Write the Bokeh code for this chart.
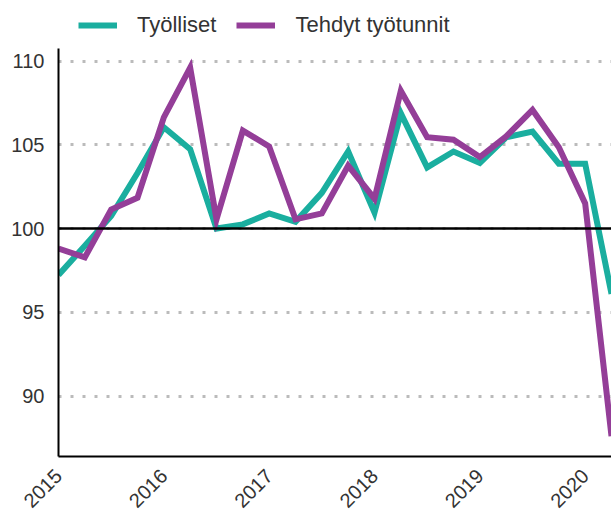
from bokeh.plotting import figure
from bokeh.layouts import column
from bokeh.models import Range1d, FixedTicker, Span, Legend, LegendItem, ColumnDataSource
from bokeh.embed import file_html
from bokeh.resources import INLINE

quarters = ["2015Q1", "2015Q2", "2015Q3", "2015Q4",
            "2016Q1", "2016Q2", "2016Q3", "2016Q4",
            "2017Q1", "2017Q2", "2017Q3", "2017Q4",
            "2018Q1", "2018Q2", "2018Q3", "2018Q4",
            "2019Q1", "2019Q2", "2019Q3", "2019Q4",
            "2020Q1", "2020Q2"]
tyolliset = [97.23, 98.97, 100.75, 103.32, 106.05, 104.74, 100.0, 100.25,
             100.9, 100.4, 102.13, 104.6, 100.95, 106.88, 103.65, 104.6,
             103.91, 105.45, 105.79, 103.87, 103.87, 96.1]
tyotunnit = [98.81, 98.28, 101.14, 101.84, 106.64, 109.6, 100.55, 105.85,
             104.9, 100.55, 100.9, 103.75, 101.78, 108.22, 105.45, 105.3,
             104.27, 105.5, 107.08, 104.86, 101.5, 87.6]
series_names = ["Työlliset", "Tehdyt työtunnit"]
year_labels = ["2015", "2016", "2017", "2018", "2019", "2020"]
y_ticks = [90, 95, 100, 105, 110]
baseline = 100

TEAL = "#1AAE9F"
PURPLE = "#943E98"
FONT = "Liberation Sans"
TXT = "#333333"

x = list(range(len(quarters)))
src = ColumnDataSource(dict(x=x, q=quarters, a=tyolliset, b=tyotunnit))

# ---- legend strip (its frame is aligned with the chart's frame by the column) ----
leg = figure(width=611, height=48, output_backend="svg", toolbar_location=None,
             x_range=Range1d(0, 1), y_range=Range1d(0, 1),
             x_axis_type=None, y_axis_type=None,
             min_border_left=58, min_border_right=0, min_border_top=0, min_border_bottom=0)
leg.outline_line_color = None
leg.grid.grid_line_color = None
leg.border_fill_color = "white"
# same series drawn out of this strip's view: only their legend swatches show
l1 = leg.line("x", "a", source=src, line_color=TEAL, line_width=6)
l2 = leg.line("x", "b", source=src, line_color=PURPLE, line_width=6)
legend = Legend(items=[LegendItem(label=series_names[0], renderers=[l1]),
                       LegendItem(label=series_names[1], renderers=[l2])],
                location=(20, 10.5), orientation="horizontal",
                glyph_width=39, glyph_height=24, label_standoff=20, spacing=20,
                padding=0, margin=0, border_line_color=None, background_fill_alpha=0,
                label_text_font=FONT, label_text_font_size="22px", label_text_color=TXT)
leg.add_layout(legend, "center")

# ---- main chart ----
p = figure(width=611, height=468, output_backend="svg", toolbar_location=None,
           x_range=Range1d(0, len(quarters) - 1), y_range=Range1d(86.39, 110.75),
           min_border_left=58, min_border_right=0, min_border_top=0, min_border_bottom=57)
p.outline_line_color = None
p.background_fill_color = "white"
p.border_fill_color = "white"

p.line("x", "a", source=src, line_color=TEAL, line_width=6, line_join="miter")
p.line("x", "b", source=src, line_color=PURPLE, line_width=6, line_join="miter")

year_idx = [i for i, q in enumerate(quarters) if q.endswith("Q1")]
p.xaxis.ticker = FixedTicker(ticks=year_idx)
p.xaxis.major_label_overrides = {i: lab for i, lab in zip(year_idx, year_labels)}
p.xaxis.major_label_orientation = 0.785398
p.yaxis.ticker = FixedTicker(ticks=y_ticks)

for ax in (p.xaxis[0], p.yaxis[0]):
    ax.axis_line_color = "black"
    ax.axis_line_width = 2
    ax.major_tick_line_color = None
    ax.minor_tick_line_color = None
    ax.major_label_text_font = FONT
    ax.major_label_text_font_size = "20px"
    ax.major_label_text_color = TXT
p.yaxis.major_label_standoff = 8
p.xaxis.major_label_standoff = 10

p.xgrid.grid_line_color = None
p.ygrid.grid_line_color = "#bbbbbb"
p.ygrid.grid_line_width = 3
p.ygrid.grid_line_dash = "3 9"

p.add_layout(Span(location=baseline, dimension="width", line_color="black", line_width=2.5))

layout = column(leg, p, spacing=0)
open("out.html", "w").write(file_html(layout, INLINE))
